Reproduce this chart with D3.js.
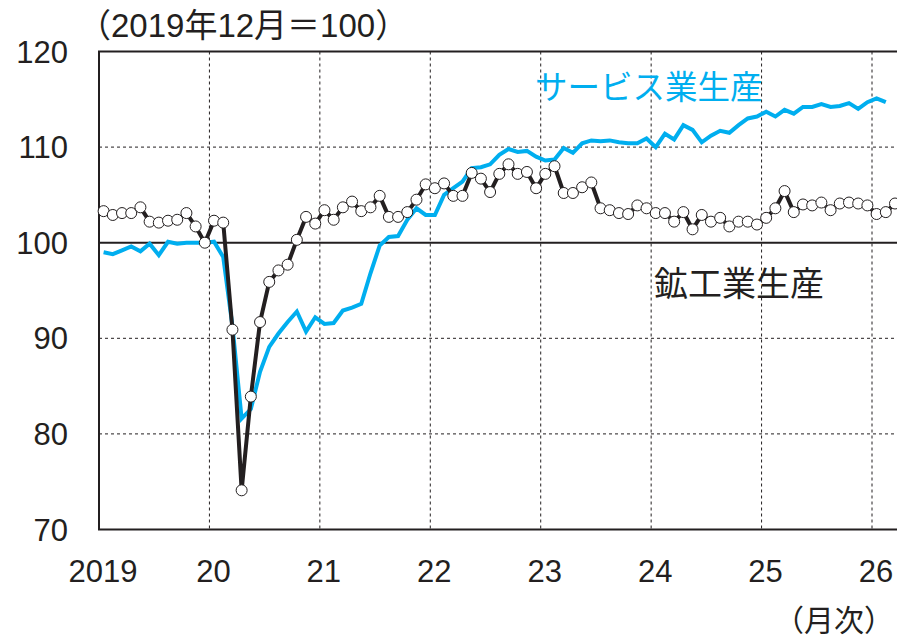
<!DOCTYPE html>
<html>
<head>
<meta charset="utf-8">
<script src="https://cdn.jsdelivr.net/npm/d3@7"></script>
<style>
  html, body { margin: 0; padding: 0; background: #fff; }
  svg { display: block; }
  text { font-family: "Liberation Sans", Arial, "Noto Sans CJK JP", sans-serif; }
</style>
</head>
<body>
<svg id="chart" width="897" height="638"></svg>
<script>
// ---- data (month index 0 = Jan 2019) ----
const years = [2019, 2020, 2021, 2022, 2023, 2024, 2025, 2026];
const yearLabels = ["2019", "20", "21", "22", "23", "24", "25", "26"];
const yTicks = [70, 80, 90, 100, 110, 120];

// 鉱工業生産 (Jan 2019 – Mar 2026)
const mining = [
  103.3, 102.9, 103.1, 103.1, 103.7, 102.2, 102.1, 102.3, 102.4, 103.1, 101.7, 100.0,
  102.3, 102.1, 90.9, 74.1, 83.9, 91.7, 95.9, 97.1, 97.7, 100.3, 102.7, 102.0,
  103.4, 102.4, 103.7, 104.3, 103.3, 103.7, 104.9, 102.7, 102.7, 103.2, 104.5, 106.1,
  105.7, 106.2, 104.9, 104.9, 107.3, 106.7, 105.3, 107.2, 108.2, 107.2, 107.4, 105.7,
  107.2, 108.0, 105.2, 105.2, 105.8, 106.3, 103.6, 103.4, 103.1, 103.0, 103.9, 103.6,
  103.1, 103.1, 102.2, 103.2, 101.4, 102.9, 102.2, 102.6, 101.7, 102.2, 102.2, 101.9,
  102.6, 103.6, 105.4, 103.2, 104.0, 103.9, 104.2, 103.4, 104.1, 104.2, 104.1, 103.9,
  103.0, 103.2, 104.1
];

// サービス業生産 (Jan 2019 – Feb 2026)
const service = [
  99.0, 98.8, 99.2, 99.6, 99.1, 99.9, 98.7, 100.1, 99.9, 100.0, 100.0, 100.0,
  100.1, 98.5, 91.3, 81.6, 82.6, 86.5, 89.1, 90.5, 91.7, 92.8, 90.7, 92.2,
  91.5, 91.6, 92.9, 93.2, 93.6, 96.8, 99.7, 100.6, 100.7, 102.4, 103.6, 102.9,
  102.9, 105.0, 105.7, 106.4, 107.8, 107.9, 108.2, 109.2, 109.8, 109.5, 109.6, 109.0,
  108.6, 108.7, 109.9, 109.4, 110.4, 110.7, 110.6, 110.7, 110.5, 110.4, 110.4, 110.9,
  110.0, 111.4, 110.8, 112.3, 111.8, 110.5, 111.2, 111.7, 111.5, 112.3, 113.0, 113.2,
  113.7, 113.2, 113.9, 113.5, 114.2, 114.2, 114.5, 114.2, 114.3, 114.6, 114.0, 114.7,
  115.1, 114.7
];

const titleText = "（2019年12月＝100）";
const unitText = "（月次）";
const serviceLabel = "サービス業生産";
const miningLabel = "鉱工業生産";

// ---- layout ----
const svg = d3.select("#chart");
const pLeft = 99, pRight = 897, pTop = 51.5, pBottom = 529.5;
const dark = "#231f20";
const blue = "#00aeef";

const x = d3.scaleLinear().domain([0, 84]).range([99, 872]);
const y = d3.scaleLinear().domain([70, 120]).range([pBottom, pTop]);
const mx = i => x(i + 0.5);

// horizontal dashed grid
svg.append("g").selectAll("line")
  .data(yTicks.filter(v => v !== 70 && v !== 100 && v !== 120))
  .join("line")
  .attr("x1", pLeft).attr("x2", pRight)
  .attr("y1", d => y(d)).attr("y2", d => y(d))
  .attr("stroke", dark).attr("stroke-width", 1)
  .attr("stroke-dasharray", "3,3");

// vertical dashed grid at year boundaries
svg.append("g").selectAll("line")
  .data(years.slice(1))
  .join("line")
  .attr("x1", d => x((d - 2019) * 12)).attr("x2", d => x((d - 2019) * 12))
  .attr("y1", pTop).attr("y2", pBottom)
  .attr("stroke", dark).attr("stroke-width", 1)
  .attr("stroke-dasharray", "3,3");

// 100 baseline
svg.append("line")
  .attr("x1", pLeft).attr("x2", pRight)
  .attr("y1", y(100)).attr("y2", y(100))
  .attr("stroke", dark).attr("stroke-width", 2);

// frame: top, left, bottom
svg.append("path")
  .attr("d", `M${pRight},${pTop}H${pLeft}V${pBottom}H${pRight}`)
  .attr("fill", "none").attr("stroke", dark).attr("stroke-width", 2);

// y tick labels
svg.append("g").selectAll("text")
  .data(yTicks)
  .join("text")
  .attr("x", 68).attr("y", d => y(d))
  .attr("dy", "0.36em")
  .attr("text-anchor", "end")
  .attr("font-size", 31)
  .attr("fill", dark)
  .text(d => d);

// x labels
svg.append("g").selectAll("text")
  .data(years)
  .join("text")
  .attr("x", (d, i) => x((d - 2019) * 12) + 4)
  .attr("y", 582)
  .attr("text-anchor", "middle")
  .attr("font-size", 31)
  .attr("fill", dark)
  .text((d, i) => yearLabels[i]);

// title & unit
svg.append("text")
  .attr("x", 78).attr("y", 37)
  .attr("font-size", 33).attr("fill", dark)
  .text(titleText);
svg.append("text")
  .attr("x", 894).attr("y", 631)
  .attr("text-anchor", "end")
  .attr("font-size", 30).attr("fill", dark)
  .text(unitText);

// service line
const line = d3.line().x((d, i) => mx(i)).y(d => y(d));
svg.append("path")
  .datum(service)
  .attr("d", line)
  .attr("fill", "none").attr("stroke", blue)
  .attr("stroke-width", 4).attr("stroke-linejoin", "miter");

// mining line
svg.append("path")
  .datum(mining)
  .attr("d", line)
  .attr("fill", "none").attr("stroke", dark)
  .attr("stroke-width", 4).attr("stroke-linejoin", "miter");

// mining markers
svg.append("g").selectAll("circle")
  .data(mining)
  .join("circle")
  .attr("cx", (d, i) => mx(i)).attr("cy", d => y(d))
  .attr("r", 5.5)
  .attr("fill", "#fff").attr("stroke", dark).attr("stroke-width", 1);

// series labels
svg.append("text")
  .attr("x", 535).attr("y", 99)
  .attr("font-size", 32.5).attr("fill", blue)
  .style("font-family", "'Noto Sans CJK JP', sans-serif")
  .text(serviceLabel);
svg.append("text")
  .attr("x", 654).attr("y", 296)
  .attr("font-size", 34).attr("fill", dark)
  .style("font-family", "'Noto Sans CJK JP', sans-serif")
  .text(miningLabel);
</script>
</body>
</html>
